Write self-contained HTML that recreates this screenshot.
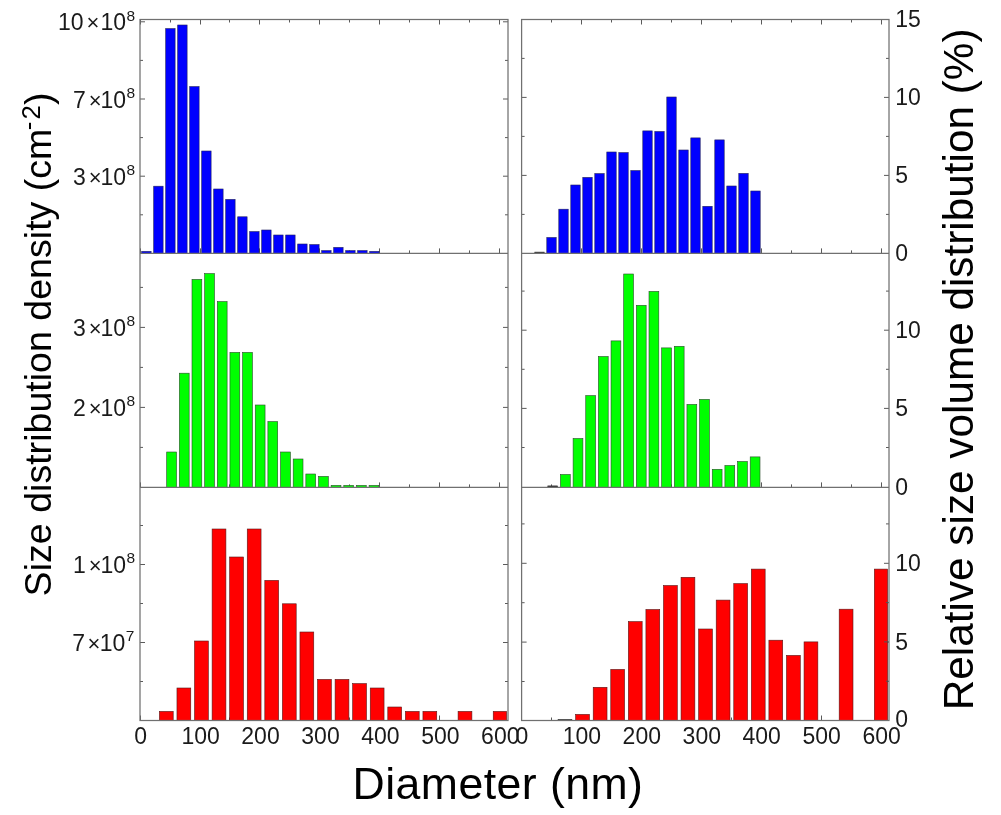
<!DOCTYPE html>
<html lang="en"><head><meta charset="utf-8"><title>Size distribution histograms</title>
<style>html,body{margin:0;padding:0;background:#fff}svg{display:block}</style></head>
<body>
<svg width="1001" height="815" viewBox="0 0 1001 815" font-family="'Liberation Sans', Arial, sans-serif" fill="#111">
<rect width="1001" height="815" fill="#fff"/>
<path d="M140.50 253.4v-5M140.50 487.4v-5M140.50 720.5v-5M140.50 19.5v5M170.50 253.4v-3M170.50 487.4v-3M170.50 720.5v-3M170.50 19.5v3M200.50 253.4v-5M200.50 487.4v-5M200.50 720.5v-5M200.50 19.5v5M229.50 253.4v-3M229.50 487.4v-3M229.50 720.5v-3M229.50 19.5v3M259.50 253.4v-5M259.50 487.4v-5M259.50 720.5v-5M259.50 19.5v5M289.50 253.4v-3M289.50 487.4v-3M289.50 720.5v-3M289.50 19.5v3M319.50 253.4v-5M319.50 487.4v-5M319.50 720.5v-5M319.50 19.5v5M349.50 253.4v-3M349.50 487.4v-3M349.50 720.5v-3M349.50 19.5v3M379.50 253.4v-5M379.50 487.4v-5M379.50 720.5v-5M379.50 19.5v5M409.50 253.4v-3M409.50 487.4v-3M409.50 720.5v-3M409.50 19.5v3M439.50 253.4v-5M439.50 487.4v-5M439.50 720.5v-5M439.50 19.5v5M469.50 253.4v-3M469.50 487.4v-3M469.50 720.5v-3M469.50 19.5v3M499.50 253.4v-5M499.50 487.4v-5M499.50 720.5v-5M499.50 19.5v5M521.50 253.4v-5M521.50 487.4v-5M521.50 720.5v-5M521.50 19.5v5M551.50 253.4v-3M551.50 487.4v-3M551.50 720.5v-3M551.50 19.5v3M581.50 253.4v-5M581.50 487.4v-5M581.50 720.5v-5M581.50 19.5v5M611.50 253.4v-3M611.50 487.4v-3M611.50 720.5v-3M611.50 19.5v3M641.50 253.4v-5M641.50 487.4v-5M641.50 720.5v-5M641.50 19.5v5M671.50 253.4v-3M671.50 487.4v-3M671.50 720.5v-3M671.50 19.5v3M701.50 253.4v-5M701.50 487.4v-5M701.50 720.5v-5M701.50 19.5v5M731.50 253.4v-3M731.50 487.4v-3M731.50 720.5v-3M731.50 19.5v3M761.50 253.4v-5M761.50 487.4v-5M761.50 720.5v-5M761.50 19.5v5M791.50 253.4v-3M791.50 487.4v-3M791.50 720.5v-3M791.50 19.5v3M821.50 253.4v-5M821.50 487.4v-5M821.50 720.5v-5M821.50 19.5v5M851.50 253.4v-3M851.50 487.4v-3M851.50 720.5v-3M851.50 19.5v3M881.50 253.4v-5M881.50 487.4v-5M881.50 720.5v-5M881.50 19.5v5M140.0 214.80h3M508.0 214.80h-3M140.0 176.20h5M508.0 176.20h-5M140.0 137.60h3M508.0 137.60h-3M140.0 99.00h5M508.0 99.00h-5M140.0 60.40h3M508.0 60.40h-3M140.0 21.80h5M508.0 21.80h-5M140.0 447.40h3M508.0 447.40h-3M140.0 407.40h5M508.0 407.40h-5M140.0 367.40h3M508.0 367.40h-3M140.0 327.40h5M508.0 327.40h-5M140.0 287.40h3M508.0 287.40h-3M140.0 681.50h3M508.0 681.50h-3M140.0 642.50h5M508.0 642.50h-5M140.0 603.50h3M508.0 603.50h-3M140.0 564.50h5M508.0 564.50h-5M140.0 525.50h3M508.0 525.50h-3M521.6 214.40h3M889.0 214.40h-3M521.6 175.40h5M889.0 175.40h-5M521.6 136.40h3M889.0 136.40h-3M521.6 97.40h5M889.0 97.40h-5M521.6 58.40h3M889.0 58.40h-3M521.6 447.50h3M889.0 447.50h-3M521.6 408.40h5M889.0 408.40h-5M521.6 369.30h3M889.0 369.30h-3M521.6 330.20h5M889.0 330.20h-5M521.6 291.10h3M889.0 291.10h-3M521.6 681.50h3M889.0 681.50h-3M521.6 642.10h5M889.0 642.10h-5M521.6 602.70h3M889.0 602.70h-3M521.6 563.30h5M889.0 563.30h-5M521.6 523.90h3M889.0 523.90h-3" stroke="#5a5a5a" stroke-width="1" fill="none"/>
<g fill="#0000ff" stroke="#20205c" stroke-width="0.6">
<rect x="141.70" y="251.40" width="9.40" height="2.00"/>
<rect x="153.70" y="186.20" width="9.40" height="67.20"/>
<rect x="165.70" y="28.60" width="9.40" height="224.80"/>
<rect x="177.70" y="25.00" width="9.40" height="228.40"/>
<rect x="189.70" y="86.60" width="9.40" height="166.80"/>
<rect x="201.70" y="151.00" width="9.40" height="102.40"/>
<rect x="213.70" y="189.00" width="9.40" height="64.40"/>
<rect x="225.70" y="199.40" width="9.40" height="54.00"/>
<rect x="237.70" y="216.80" width="9.40" height="36.60"/>
<rect x="249.70" y="231.60" width="9.40" height="21.80"/>
<rect x="261.70" y="230.00" width="9.40" height="23.40"/>
<rect x="273.70" y="235.00" width="9.40" height="18.40"/>
<rect x="285.70" y="235.00" width="9.40" height="18.40"/>
<rect x="297.70" y="244.00" width="9.40" height="9.40"/>
<rect x="309.70" y="244.60" width="9.40" height="8.80"/>
<rect x="321.70" y="250.60" width="9.40" height="2.80"/>
<rect x="333.70" y="247.40" width="9.40" height="6.00"/>
<rect x="345.70" y="250.60" width="9.40" height="2.80"/>
<rect x="357.70" y="250.60" width="9.40" height="2.80"/>
<rect x="369.70" y="251.40" width="9.40" height="2.00"/>
</g>
<g fill="#0000ff" stroke="#20205c" stroke-width="0.6">
<rect x="534.80" y="252.10" width="9.40" height="1.30" fill="#333" stroke="#333"/>
<rect x="546.80" y="237.50" width="9.40" height="15.90"/>
<rect x="558.80" y="209.20" width="9.40" height="44.20"/>
<rect x="570.80" y="185.00" width="9.40" height="68.40"/>
<rect x="582.80" y="177.40" width="9.40" height="76.00"/>
<rect x="594.80" y="173.60" width="9.40" height="79.80"/>
<rect x="606.80" y="152.00" width="9.40" height="101.40"/>
<rect x="618.80" y="152.60" width="9.40" height="100.80"/>
<rect x="630.80" y="170.60" width="9.40" height="82.80"/>
<rect x="642.80" y="130.90" width="9.40" height="122.50"/>
<rect x="654.80" y="131.50" width="9.40" height="121.90"/>
<rect x="666.80" y="97.00" width="9.40" height="156.40"/>
<rect x="678.80" y="150.00" width="9.40" height="103.40"/>
<rect x="690.80" y="137.90" width="9.40" height="115.50"/>
<rect x="702.80" y="206.30" width="9.40" height="47.10"/>
<rect x="714.80" y="139.90" width="9.40" height="113.50"/>
<rect x="726.80" y="186.00" width="9.40" height="67.40"/>
<rect x="738.80" y="173.40" width="9.40" height="80.00"/>
<rect x="750.80" y="191.00" width="9.40" height="62.40"/>
</g>
<g fill="#00ff00" stroke="#2a4a2a" stroke-width="0.6">
<rect x="166.70" y="452.00" width="9.80" height="35.40"/>
<rect x="179.35" y="373.20" width="9.80" height="114.20"/>
<rect x="192.00" y="279.40" width="9.80" height="208.00"/>
<rect x="204.65" y="273.60" width="9.80" height="213.80"/>
<rect x="217.30" y="301.60" width="9.80" height="185.80"/>
<rect x="229.95" y="352.40" width="9.80" height="135.00"/>
<rect x="242.60" y="352.40" width="9.80" height="135.00"/>
<rect x="255.25" y="405.00" width="9.80" height="82.40"/>
<rect x="267.90" y="421.60" width="9.80" height="65.80"/>
<rect x="280.55" y="452.00" width="9.80" height="35.40"/>
<rect x="293.20" y="459.00" width="9.80" height="28.40"/>
<rect x="305.85" y="474.00" width="9.80" height="13.40"/>
<rect x="318.50" y="476.40" width="9.80" height="11.00"/>
<rect x="331.15" y="485.40" width="9.80" height="2.00"/>
<rect x="343.80" y="485.40" width="9.80" height="2.00"/>
<rect x="356.45" y="485.40" width="9.80" height="2.00"/>
<rect x="369.10" y="485.40" width="9.80" height="2.00"/>
</g>
<g fill="#00ff00" stroke="#2a4a2a" stroke-width="0.6">
<rect x="547.80" y="485.90" width="9.80" height="1.50" fill="#333" stroke="#333"/>
<rect x="560.45" y="474.50" width="9.80" height="12.90"/>
<rect x="573.10" y="438.50" width="9.80" height="48.90"/>
<rect x="585.75" y="395.60" width="9.80" height="91.80"/>
<rect x="598.40" y="356.50" width="9.80" height="130.90"/>
<rect x="611.05" y="340.90" width="9.80" height="146.50"/>
<rect x="623.70" y="274.00" width="9.80" height="213.40"/>
<rect x="636.35" y="305.30" width="9.80" height="182.10"/>
<rect x="649.00" y="291.40" width="9.80" height="196.00"/>
<rect x="661.65" y="347.90" width="9.80" height="139.50"/>
<rect x="674.30" y="346.30" width="9.80" height="141.10"/>
<rect x="686.95" y="404.40" width="9.80" height="83.00"/>
<rect x="699.60" y="399.40" width="9.80" height="88.00"/>
<rect x="712.25" y="469.30" width="9.80" height="18.10"/>
<rect x="724.90" y="465.50" width="9.80" height="21.90"/>
<rect x="737.55" y="461.50" width="9.80" height="25.90"/>
<rect x="750.20" y="456.90" width="9.80" height="30.50"/>
</g>
<g fill="#ff0000" stroke="#561818" stroke-width="0.6">
<rect x="159.40" y="711.40" width="13.80" height="9.10"/>
<rect x="176.97" y="688.00" width="13.80" height="32.50"/>
<rect x="194.54" y="641.00" width="13.80" height="79.50"/>
<rect x="212.11" y="529.00" width="13.80" height="191.50"/>
<rect x="229.68" y="557.00" width="13.80" height="163.50"/>
<rect x="247.25" y="529.00" width="13.80" height="191.50"/>
<rect x="264.82" y="580.40" width="13.80" height="140.10"/>
<rect x="282.39" y="603.80" width="13.80" height="116.70"/>
<rect x="299.96" y="632.00" width="13.80" height="88.50"/>
<rect x="317.53" y="679.40" width="13.80" height="41.10"/>
<rect x="335.10" y="679.40" width="13.80" height="41.10"/>
<rect x="352.67" y="683.60" width="13.80" height="36.90"/>
<rect x="370.24" y="688.00" width="13.80" height="32.50"/>
<rect x="387.81" y="707.00" width="13.80" height="13.50"/>
<rect x="405.38" y="711.40" width="13.80" height="9.10"/>
<rect x="422.95" y="711.40" width="13.80" height="9.10"/>
<rect x="458.09" y="711.40" width="13.80" height="9.10"/>
<rect x="493.23" y="711.40" width="13.37" height="9.10"/>
</g>
<g fill="#ff0000" stroke="#561818" stroke-width="0.6">
<rect x="558.07" y="719.40" width="13.80" height="1.10" fill="#333" stroke="#333"/>
<rect x="575.64" y="714.40" width="13.80" height="6.10"/>
<rect x="593.21" y="687.30" width="13.80" height="33.20"/>
<rect x="610.78" y="669.40" width="13.80" height="51.10"/>
<rect x="628.35" y="621.60" width="13.80" height="98.90"/>
<rect x="645.92" y="609.50" width="13.80" height="111.00"/>
<rect x="663.49" y="585.50" width="13.80" height="135.00"/>
<rect x="681.06" y="577.30" width="13.80" height="143.20"/>
<rect x="698.63" y="629.00" width="13.80" height="91.50"/>
<rect x="716.20" y="600.10" width="13.80" height="120.40"/>
<rect x="733.77" y="583.60" width="13.80" height="136.90"/>
<rect x="751.34" y="569.10" width="13.80" height="151.40"/>
<rect x="768.91" y="640.20" width="13.80" height="80.30"/>
<rect x="786.48" y="655.40" width="13.80" height="65.10"/>
<rect x="804.05" y="641.90" width="13.80" height="78.60"/>
<rect x="839.19" y="609.20" width="13.80" height="111.30"/>
<rect x="874.33" y="569.10" width="13.27" height="151.40"/>
</g>
<path d="M889.0 602.5h-3M889.0 641.9h-5M889.0 681.2h-3" stroke="#555" stroke-width="1" fill="none"/>
<g stroke="#707070" stroke-width="1.25" fill="none">
<rect x="140.0" y="19.5" width="368.0" height="701.0"/>
<path d="M140.0 253.4H508.0M140.0 487.4H508.0"/>
<rect x="521.6" y="19.5" width="367.4" height="701.0"/>
<path d="M521.6 253.4H889.0M521.6 487.4H889.0"/>
</g>
<g font-size="23" fill="#1a1a1a">
<text x="135" y="30.4" text-anchor="end">10<tspan dx="3.1" font-size="22">×</tspan><tspan dx="1.0">10</tspan><tspan font-size="15.5" dx="0.3" dy="-9.8">8</tspan></text>
<text x="135" y="107.6" text-anchor="end">7<tspan dx="2.9" font-size="22">×</tspan><tspan dx="-1.1">10</tspan><tspan font-size="15.5" dx="0.3" dy="-9.8">8</tspan></text>
<text x="135" y="184.8" text-anchor="end">3<tspan dx="2.9" font-size="22">×</tspan><tspan dx="-1.1">10</tspan><tspan font-size="15.5" dx="0.3" dy="-9.8">8</tspan></text>
<text x="135" y="336.0" text-anchor="end">3<tspan dx="2.9" font-size="22">×</tspan><tspan dx="-1.1">10</tspan><tspan font-size="15.5" dx="0.3" dy="-9.8">8</tspan></text>
<text x="135" y="416.0" text-anchor="end">2<tspan dx="2.9" font-size="22">×</tspan><tspan dx="-1.1">10</tspan><tspan font-size="15.5" dx="0.3" dy="-9.8">8</tspan></text>
<text x="135" y="573.1" text-anchor="end">1<tspan dx="2.9" font-size="22">×</tspan><tspan dx="-1.1">10</tspan><tspan font-size="15.5" dx="0.3" dy="-9.8">8</tspan></text>
<text x="134.3" y="651.1" text-anchor="end">7<tspan dx="2.5" font-size="22">×</tspan><tspan dx="-0.5">10</tspan><tspan font-size="15.5" dx="0.3" dy="-9.8">7</tspan></text>
<text x="895.3" y="27.1">15</text>
<text x="895.3" y="105.0">10</text>
<text x="895.3" y="183.0">5</text>
<text x="895.3" y="261.0">0</text>
<text x="895.3" y="337.8">10</text>
<text x="895.3" y="416.0">5</text>
<text x="895.3" y="494.5">0</text>
<text x="895.3" y="570.9">10</text>
<text x="895.3" y="649.7">5</text>
<text x="895.3" y="727.4">0</text>
<text x="140.6" y="744" text-anchor="middle">0</text>
<text x="521.9" y="744" text-anchor="middle">0</text>
<text x="200.6" y="744" text-anchor="middle">100</text>
<text x="581.9" y="744" text-anchor="middle">100</text>
<text x="260.5" y="744" text-anchor="middle">200</text>
<text x="641.8" y="744" text-anchor="middle">200</text>
<text x="320.5" y="744" text-anchor="middle">300</text>
<text x="701.8" y="744" text-anchor="middle">300</text>
<text x="380.4" y="744" text-anchor="middle">400</text>
<text x="761.7" y="744" text-anchor="middle">400</text>
<text x="440.4" y="744" text-anchor="middle">500</text>
<text x="821.6" y="744" text-anchor="middle">500</text>
<text x="500.3" y="744" text-anchor="middle">600</text>
<text x="881.6" y="744" text-anchor="middle">600</text>
</g>
<g fill="#000">
<text x="352.6" y="798.6" font-size="44.6" letter-spacing="0.45">Diameter (nm)</text>
<text transform="translate(51.2 596.4) rotate(-90)" font-size="37.6">Size distribution density (cm<tspan font-size="25.9" dy="-14.2" dx="-1.6">-</tspan><tspan font-size="25.9" dy="3.2" dx="2.1">2</tspan><tspan dy="11">)</tspan></text>
<text transform="translate(973.4 710.2) rotate(-90)" font-size="42.3">Relative size volume distribution (%)</text>
</g>
</svg>
</body></html>
